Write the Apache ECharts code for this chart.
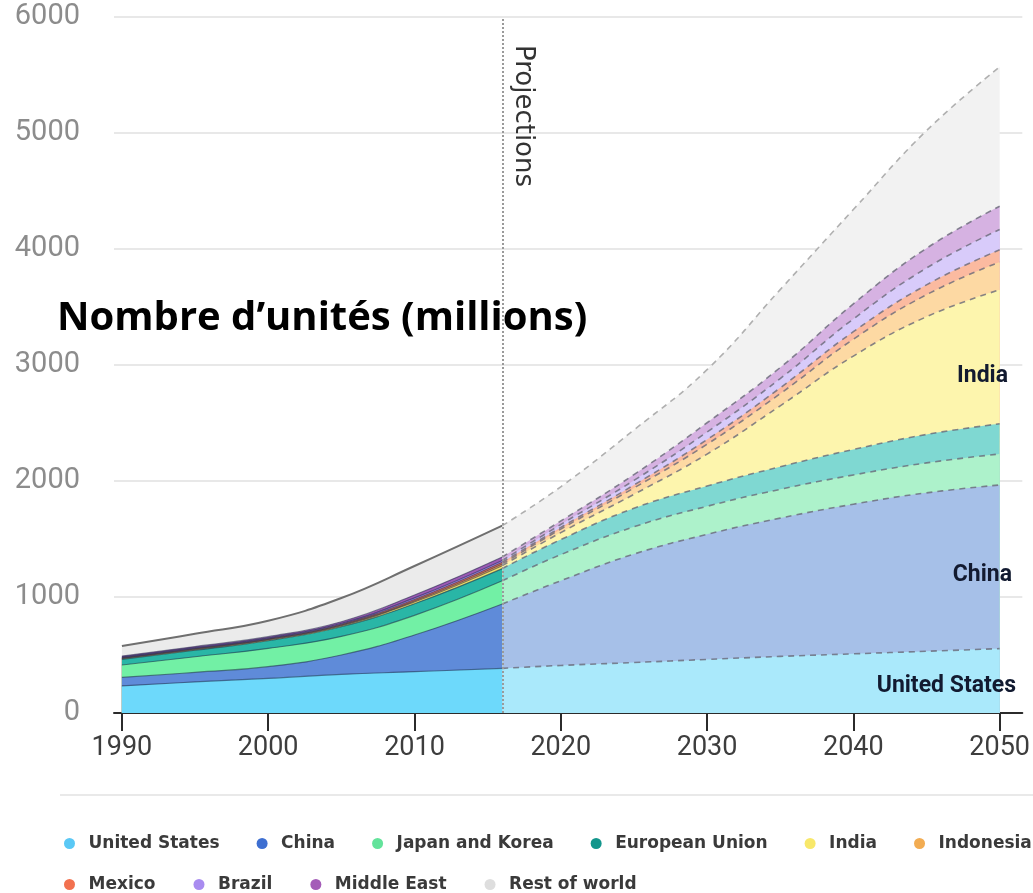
<!DOCTYPE html>
<html>
<head>
<meta charset="utf-8">
<title>Nombre d’unités (millions)</title>
<script src="https://cdn.jsdelivr.net/npm/echarts@6/dist/echarts.min.js"></script>
<style>
  html, body { margin: 0; padding: 0; background: #ffffff; }
  #chart { width: 1033px; height: 893px; }
</style>
</head>
<body>
<div id="chart"></div>
<script>
// Regions, in stacking order (bottom to top)
const regions = ['United States', 'China', 'Japan and Korea', 'European Union', 'India',
                 'Indonesia', 'Mexico', 'Brazil', 'Middle East', 'Rest of world'];

// Observed period (millions of units)
const histYears = [1990, 1995, 2000, 2005, 2010, 2016];
const histUS = [233, 268, 299, 333, 356, 385];
const histChina = [74, 82, 100, 167, 316, 555];
const histJapanKorea = [107, 135, 158, 160, 170, 200];
const histEU = [49, 56, 66, 84, 100, 105];
const histIndia = [5, 6, 7, 9, 15, 25];
const histIndonesia = [4, 5, 5, 6, 10, 15];
const histMexico = [5, 5, 6, 7, 12, 15];
const histBrazil = [5, 6, 6, 8, 13, 15];
const histMiddleEast = [9, 10, 11, 13, 25, 30];
const histRest = [87, 110, 137, 204, 250, 270];

// Projected period (millions of units)
const projYears = [2016, 2020, 2025, 2030, 2035, 2040, 2045, 2050];
const projUS = [385, 410, 435, 462, 488, 510, 532, 555];
const projChina = [555, 730, 935, 1078, 1192, 1290, 1366, 1411];
const projJapanKorea = [200, 225, 235, 242, 248, 252, 258, 267];
const projEU = [105, 130, 160, 175, 195, 220, 245, 260];
const projIndia = [25, 60, 120, 275, 525, 805, 1015, 1155];
const projIndonesia = [15, 30, 55, 85, 105, 145, 190, 240];
const projMexico = [15, 15, 25, 40, 50, 65, 85, 105];
const projBrazil = [15, 25, 40, 65, 80, 110, 145, 175];
const projMiddleEast = [30, 30, 50, 80, 95, 130, 170, 200];
const projRest = [270, 295, 385, 458, 672, 813, 1014, 1202];

const xTickValues = [1990, 2000, 2010, 2020, 2030, 2040, 2050];
const projectionStart = 2016;

const histValues = [histUS, histChina, histJapanKorea, histEU, histIndia,
                    histIndonesia, histMexico, histBrazil, histMiddleEast, histRest];
const projValues = [projUS, projChina, projJapanKorea, projEU, projIndia,
                    projIndonesia, projMexico, projBrazil, projMiddleEast, projRest];

// Colours: legend dots, solid observed fill, washed projected fill
const legendColors = ['#5ac8f5', '#3e6fd1', '#63e39b', '#13968c', '#f8e86a',
                      '#f2ac52', '#f2714f', '#a98cf0', '#a45db8', '#dedede'];
const histColors = ['#6dd9fb', '#5f8bd9', '#72f0a5', '#29b6a6', '#f3e46a',
                    '#f2a65a', '#f0765c', '#a98cf0', '#9c5bb5', '#ebebeb'];
const projColors = ['#aae9fb', '#a6c0e8', '#adf2cb', '#7fd8d2', '#fdf5ad',
                    '#fdd9a3', '#fbbaa0', '#d8cbfa', '#d6b2e2', '#f2f2f2'];

const FONT = 'Roboto, "Noto Sans", sans-serif';

// Running totals: each layer's upper edge = sum of itself and every layer beneath it.
function runningTotals(layers) {
  const out = [];
  layers.forEach((vals, i) => {
    out.push(vals.map((v, j) => v + (i > 0 ? out[i - 1][j] : 0)));
  });
  return out;
}
const histTops = runningTotals(histValues);
const projTops = runningTotals(projValues);

function pairs(years, vals) {
  return years.map((y, i) => [y, vals[i]]);
}

// Layers are painted from the top one down, each filled to zero, so every
// lower layer covers the part of the one above that lies beneath its edge.
const series = [];
for (let i = regions.length - 1; i >= 0; i--) {
  const isRest = i === regions.length - 1;
  series.push({
    name: regions[i],
    type: 'line',
    smooth: 0.45,
    showSymbol: false,
    silent: true,
    data: pairs(histYears, histTops[i]),
    lineStyle: isRest
      ? { color: '#6f6f6f', width: 2 }
      : { color: 'rgba(30,40,70,0.55)', width: 1.2 },
    areaStyle: { color: histColors[i], opacity: 1 },
    z: 2
  });
}
for (let i = regions.length - 1; i >= 0; i--) {
  const isRest = i === regions.length - 1;
  const s = {
    name: regions[i],
    type: 'line',
    smooth: 0.45,
    showSymbol: false,
    silent: true,
    data: pairs(projYears, projTops[i]),
    lineStyle: isRest
      ? { color: '#b0b0b0', width: 1.6, type: [6, 5] }
      : { color: 'rgba(105,105,120,0.8)', width: 1.6, type: [6, 5] },
    areaStyle: { color: projColors[i], opacity: 1 },
    z: 3
  };
  if (i === 0) {
    s.markLine = {
      silent: true,
      symbol: ['none', 'none'],
      label: { show: false },
      lineStyle: { type: 'dotted', color: '#9a9a9a', width: 2 },
      data: [{ xAxis: projectionStart }]
    };
  }
  series.push(s);
}

const legendRow1 = regions.slice(0, 6).map((n, i) => ({ name: n, itemStyle: { color: legendColors[i] } }));
const legendRow2 = regions.slice(6).map((n, i) => ({ name: n, itemStyle: { color: legendColors[i + 6] } }));

const legendBase = {
  icon: 'circle',
  itemWidth: 28,
  itemHeight: 11,
  itemGap: 38,
  padding: 0,
  width: 1100,
  selectedMode: false,
  textStyle: { fontFamily: '"DejaVu Sans", sans-serif', fontSize: 17, fontWeight: 'bold', color: '#3a3a3a' },
  orient: 'horizontal'
};

const chart = echarts.init(document.getElementById('chart'), null, { renderer: 'canvas' });
chart.setOption({
  animation: false,
  backgroundColor: '#ffffff',
  grid: { left: 114, right: 0, top: 17, bottom: 180, containLabel: false },
  xAxis: {
    type: 'value',
    min: 1989.46,
    max: 2051.55,
    splitLine: { show: false },
    axisLine: { show: true, onZero: false, lineStyle: { color: '#2b2b2b', width: 2 } },
    axisTick: { show: true, length: 18, customValues: xTickValues, lineStyle: { color: '#2b2b2b', width: 2 } },
    axisLabel: {
      customValues: xTickValues,
      fontFamily: FONT, fontSize: 27, color: '#3d3d3d', margin: 22,
      formatter: v => String(v)
    }
  },
  yAxis: {
    type: 'value',
    min: 0,
    max: 6000,
    interval: 1000,
    axisLine: { show: false },
    axisTick: { show: false },
    splitLine: { lineStyle: { color: '#e8e8e8', width: 2 } },
    axisLabel: { fontFamily: FONT, fontSize: 29, color: '#8c8c8c', margin: 34, formatter: v => String(v) }
  },
  legend: [
    Object.assign({}, legendBase, { data: legendRow1, left: 64, top: 835, itemGap: 37 }),
    Object.assign({}, legendBase, { data: legendRow2, left: 64, top: 876 })
  ],
  series: series,
  graphic: [
    {
      type: 'line', silent: true,
      shape: { x1: 60, y1: 795, x2: 1033, y2: 795 },
      style: { stroke: '#e9e9e9', lineWidth: 2 }
    },
    {
      type: 'text', silent: true, x: 57, y: 319,
      style: {
        text: 'Nombre d’unités (millions)',
        fontFamily: '"Open Sans", "Noto Sans", sans-serif', fontWeight: 'bold', fontSize: 40,
        fill: '#000000', textAlign: 'left', textVerticalAlign: 'middle'
      },
      z: 10
    },
    {
      type: 'text', silent: true, x: 523, y: 116, rotation: -Math.PI / 2,
      style: {
        text: 'Projections',
        fontFamily: '"DejaVu Sans", sans-serif', fontSize: 26,
        fill: '#333333', textAlign: 'center', textVerticalAlign: 'middle'
      },
      z: 10
    },
    {
      type: 'text', silent: true, x: 1008, y: 376,
      style: { text: 'India', fontFamily: FONT, fontWeight: 'bold', fontSize: 23, fill: '#121a30', textAlign: 'right', textVerticalAlign: 'middle' },
      z: 10
    },
    {
      type: 'text', silent: true, x: 1012, y: 575,
      style: { text: 'China', fontFamily: FONT, fontWeight: 'bold', fontSize: 23, fill: '#121a30', textAlign: 'right', textVerticalAlign: 'middle' },
      z: 10
    },
    {
      type: 'text', silent: true, x: 1016, y: 686,
      style: { text: 'United States', fontFamily: FONT, fontWeight: 'bold', fontSize: 23, fill: '#121a30', textAlign: 'right', textVerticalAlign: 'middle' },
      z: 10
    }
  ]
});
</script>
</body>
</html>
